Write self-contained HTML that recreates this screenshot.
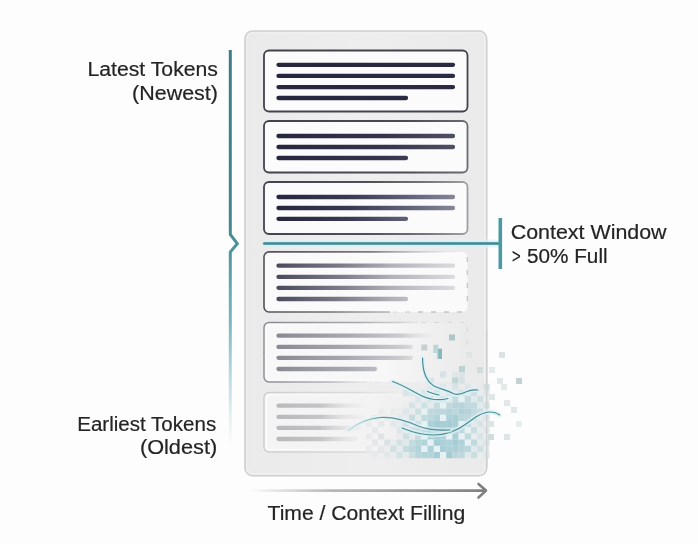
<!DOCTYPE html>
<html><head><meta charset="utf-8">
<style>
html,body{margin:0;padding:0;background:#fdfdfd;}
body{width:698px;height:544px;overflow:hidden;position:relative;font-family:"Liberation Sans",sans-serif;}
svg{position:absolute;left:0;top:0;filter:blur(0.3px);}
.t{font-family:"Liberation Sans",sans-serif;font-size:20px;fill:#242424;stroke:#242424;stroke-width:0.2px;}
</style></head><body>
<svg width="698" height="544" viewBox="0 0 698 544">
<defs>
  <linearGradient id="panelG" x1="0" y1="0" x2="1" y2="0">
    <stop offset="0" stop-color="#eaeaeb"/>
    <stop offset="0.5" stop-color="#eeeeef"/>
    <stop offset="1" stop-color="#eaeaeb"/>
  </linearGradient>
  <linearGradient id="bracketG" gradientUnits="userSpaceOnUse" x1="0" y1="50" x2="0" y2="445">
    <stop offset="0" stop-color="#3d7b85"/>
    <stop offset="0.45" stop-color="#44878f"/>
    <stop offset="0.7" stop-color="#5ba8b2" stop-opacity="0.8"/>
    <stop offset="1" stop-color="#7fc0c8" stop-opacity="0"/>
  </linearGradient>
  <linearGradient id="arrowG" gradientUnits="userSpaceOnUse" x1="248" y1="0" x2="486" y2="0">
    <stop offset="0" stop-color="#9a9a9a" stop-opacity="0"/>
    <stop offset="0.35" stop-color="#9a9a9a" stop-opacity="0.7"/>
    <stop offset="1" stop-color="#7e7e7e"/>
  </linearGradient>
  <linearGradient id="l1" gradientUnits="userSpaceOnUse" x1="278" y1="0" x2="455" y2="0"><stop offset="0" stop-color="#26273e" stop-opacity="1"/><stop offset="1" stop-color="#2a2b43" stop-opacity="1"/></linearGradient><linearGradient id="l2" gradientUnits="userSpaceOnUse" x1="278" y1="0" x2="455" y2="0"><stop offset="0" stop-color="#26273e" stop-opacity="1"/><stop offset="0.6" stop-color="#34354c" stop-opacity="1"/><stop offset="1" stop-color="#4e4f64" stop-opacity="1"/></linearGradient><linearGradient id="l3" gradientUnits="userSpaceOnUse" x1="278" y1="0" x2="455" y2="0"><stop offset="0" stop-color="#26273e" stop-opacity="1"/><stop offset="0.4" stop-color="#383950" stop-opacity="1"/><stop offset="0.75" stop-color="#62637a" stop-opacity="1"/><stop offset="1" stop-color="#858596" stop-opacity="1"/></linearGradient><linearGradient id="l4" gradientUnits="userSpaceOnUse" x1="278" y1="0" x2="455" y2="0"><stop offset="0" stop-color="#4a4b5e" stop-opacity="1"/><stop offset="0.35" stop-color="#7a7a88" stop-opacity="1"/><stop offset="0.65" stop-color="#b2b2ba" stop-opacity="1"/><stop offset="1" stop-color="#dcdce0" stop-opacity="1"/></linearGradient><linearGradient id="l5" gradientUnits="userSpaceOnUse" x1="278" y1="0" x2="432" y2="0"><stop offset="0" stop-color="#8a8a94" stop-opacity="1"/><stop offset="0.45" stop-color="#a8a8b0" stop-opacity="1"/><stop offset="0.8" stop-color="#cbcbd0" stop-opacity="1"/><stop offset="1" stop-color="#e6e6e8" stop-opacity="0.3"/></linearGradient><linearGradient id="l6" gradientUnits="userSpaceOnUse" x1="278" y1="0" x2="372" y2="0"><stop offset="0" stop-color="#b9b9bb" stop-opacity="1"/><stop offset="0.45" stop-color="#c4c4c6" stop-opacity="1"/><stop offset="1" stop-color="#e8e8e8" stop-opacity="0"/></linearGradient><linearGradient id="b2" gradientUnits="userSpaceOnUse" x1="264" y1="0" x2="468" y2="0"><stop offset="0" stop-color="#42434f" stop-opacity="1"/><stop offset="0.7" stop-color="#4a4b56" stop-opacity="1"/><stop offset="1" stop-color="#6c6c74" stop-opacity="1"/></linearGradient><linearGradient id="b3" gradientUnits="userSpaceOnUse" x1="264" y1="0" x2="468" y2="0"><stop offset="0" stop-color="#42434f" stop-opacity="1"/><stop offset="0.5" stop-color="#4e4f5a" stop-opacity="1"/><stop offset="0.8" stop-color="#76767e" stop-opacity="1"/><stop offset="1" stop-color="#a0a0a6" stop-opacity="1"/></linearGradient><linearGradient id="b4t" gradientUnits="userSpaceOnUse" x1="264" y1="0" x2="460" y2="0"><stop offset="0" stop-color="#50515c" stop-opacity="1"/><stop offset="0.55" stop-color="#7c7c86" stop-opacity="1"/><stop offset="0.8" stop-color="#b4b4ba" stop-opacity="0.6"/><stop offset="1" stop-color="#d0d0d4" stop-opacity="0"/></linearGradient><linearGradient id="b4b" gradientUnits="userSpaceOnUse" x1="264" y1="0" x2="395" y2="0"><stop offset="0" stop-color="#50515c" stop-opacity="1"/><stop offset="0.5" stop-color="#6e6e78" stop-opacity="1"/><stop offset="1" stop-color="#a0a0a8" stop-opacity="0.7"/></linearGradient><linearGradient id="b5t" gradientUnits="userSpaceOnUse" x1="264" y1="0" x2="425" y2="0"><stop offset="0" stop-color="#8a8a92" stop-opacity="1"/><stop offset="0.6" stop-color="#a0a0a8" stop-opacity="0.9"/><stop offset="0.85" stop-color="#b8b8bc" stop-opacity="0.6"/><stop offset="1" stop-color="#d0d0d2" stop-opacity="0.1"/></linearGradient><linearGradient id="b5b" gradientUnits="userSpaceOnUse" x1="264" y1="0" x2="375" y2="0"><stop offset="0" stop-color="#8a8a92" stop-opacity="1"/><stop offset="0.6" stop-color="#a8a8ae" stop-opacity="0.8"/><stop offset="1" stop-color="#c8c8cc" stop-opacity="0"/></linearGradient><linearGradient id="b6" gradientUnits="userSpaceOnUse" x1="264" y1="0" x2="420" y2="0"><stop offset="0" stop-color="#cdcdd0" stop-opacity="1"/><stop offset="0.6" stop-color="#d6d6d8" stop-opacity="0.8"/><stop offset="1" stop-color="#e0e0e0" stop-opacity="0"/></linearGradient><linearGradient id="b6i" gradientUnits="userSpaceOnUse" x1="264" y1="0" x2="420" y2="0"><stop offset="0" stop-color="#fcfcfc" stop-opacity="1"/><stop offset="0.6" stop-color="#fafafa" stop-opacity="0.6"/><stop offset="1" stop-color="#fafafa" stop-opacity="0"/></linearGradient><linearGradient id="f5" gradientUnits="userSpaceOnUse" x1="264" y1="0" x2="468" y2="0"><stop offset="0" stop-color="#f8f8f8" stop-opacity="1"/><stop offset="0.6" stop-color="#f7f7f7" stop-opacity="1"/><stop offset="0.85" stop-color="#f2f2f2" stop-opacity="0.5"/><stop offset="1" stop-color="#f0f0f0" stop-opacity="0"/></linearGradient><linearGradient id="f6" gradientUnits="userSpaceOnUse" x1="264" y1="0" x2="468" y2="0"><stop offset="0" stop-color="#f4f4f4" stop-opacity="1"/><stop offset="0.5" stop-color="#f3f3f3" stop-opacity="1"/><stop offset="0.8" stop-color="#f0f0f0" stop-opacity="0.4"/><stop offset="1" stop-color="#efefef" stop-opacity="0"/></linearGradient><linearGradient id="curveD" gradientUnits="userSpaceOnUse" x1="348" y1="0" x2="450" y2="0"><stop offset="0" stop-color="#9cc2c8" stop-opacity="0.5"/><stop offset="0.3" stop-color="#5e99a2" stop-opacity="1"/><stop offset="1" stop-color="#4c8b95" stop-opacity="1"/></linearGradient><linearGradient id="dash4" gradientUnits="userSpaceOnUse" x1="400" y1="0" x2="468" y2="0"><stop offset="0" stop-color="#b8b8bc" stop-opacity="0.3"/><stop offset="0.3" stop-color="#b8b8bc" stop-opacity="0.8"/><stop offset="1" stop-color="#c2c2c6" stop-opacity="0.9"/></linearGradient><linearGradient id="dash5" gradientUnits="userSpaceOnUse" x1="400" y1="0" x2="468" y2="0"><stop offset="0" stop-color="#c8c8cc" stop-opacity="0.3"/><stop offset="0.3" stop-color="#c8c8cc" stop-opacity="0.6"/><stop offset="1" stop-color="#c8c8cc" stop-opacity="0.5"/></linearGradient>
  <g id="curves" fill="none" stroke-linecap="round">
    <path d="M422.6 358 C422.5 372 426 381 434 386 C441 389.5 447 390 452 393 C457 396 462 394 467 391.5 C471 389.5 474 389.5 478 390"/>
    <path d="M392.5 381.5 C403 385 412 391 421 395.5 C428 399 438 401 448 398.5"/>
    <path d="M427.5 391.5 C431 393 435 394.3 439 395"/>
    <path d="M402 428 C412 432 422 435 433 435 C448 435 458 430 466 424 C474 418 482 412 490 412 C494 412 497 413 499.5 415"/>
  </g>
</defs>

<!-- panel -->
<rect x="245" y="31" width="241.7" height="444.7" rx="7.5" fill="url(#panelG)" stroke="#cfcfd1" stroke-width="1.6"/>
<rect x="246.8" y="32.8" width="238.1" height="441.1" rx="6" fill="none" stroke="#f1f1f2" stroke-width="1.2"/>

<!-- card 1 -->
<rect x="264" y="50.5" width="203.5" height="61" rx="5" fill="#fbfbfc" stroke="#42434f" stroke-width="1.8"/>
<g stroke-width="4.3" stroke-linecap="round">
<line x1="278.5" y1="64.8" x2="453" y2="64.8" stroke="url(#l1)"/>
<line x1="278.5" y1="75.9" x2="453" y2="75.9" stroke="url(#l1)"/>
<line x1="278.5" y1="87.1" x2="453" y2="87.1" stroke="url(#l1)"/>
<line x1="278.5" y1="98" x2="406" y2="98" stroke="url(#l1)"/>
</g>

<!-- card 2 -->
<rect x="264" y="121" width="203.5" height="51.5" rx="5" fill="#fbfbfc" stroke="url(#b2)" stroke-width="1.8"/>
<g stroke-width="4.3" stroke-linecap="round">
<line x1="278.5" y1="136" x2="453" y2="136" stroke="url(#l2)"/>
<line x1="278.5" y1="147" x2="453" y2="147" stroke="url(#l2)"/>
<line x1="278.5" y1="158" x2="406" y2="158" stroke="url(#l2)"/>
</g>

<!-- card 3 -->
<rect x="264" y="182" width="203.5" height="52" rx="5" fill="#fbfbfc" stroke="url(#b3)" stroke-width="1.8"/>
<g stroke-width="4.3" stroke-linecap="round">
<line x1="278.5" y1="197" x2="453" y2="197" stroke="url(#l3)"/>
<line x1="278.5" y1="208" x2="453" y2="208" stroke="url(#l3)"/>
<line x1="278.5" y1="218.8" x2="406" y2="218.8" stroke="url(#l3)"/>
</g>

<!-- card 4 -->
<rect x="264" y="251.9" width="203.5" height="60.1" rx="5" fill="#fafafa"/>
<path d="M264 281.9 V256.9 A5 5 0 0 1 269 251.9 H468" fill="none" stroke="url(#b4t)" stroke-width="1.6"/>
<path d="M264 282 V307 A5 5 0 0 0 269 312 H390" fill="none" stroke="url(#b4b)" stroke-width="1.6"/>
<path d="M467.3 257 V309 M462 312 H393" fill="none" stroke="url(#dash4)" stroke-width="1.3" stroke-dasharray="5 8"/>
<g stroke-width="4.3" stroke-linecap="round">
<line x1="278.5" y1="265.7" x2="453" y2="265.7" stroke="url(#l4)"/>
<line x1="278.5" y1="276.9" x2="453" y2="276.9" stroke="url(#l4)"/>
<line x1="278.5" y1="287.8" x2="453" y2="287.8" stroke="url(#l4)"/>
<line x1="278.5" y1="299" x2="406" y2="299" stroke="url(#l4)"/>
</g>

<!-- card 5 -->
<rect x="264" y="322.5" width="203.5" height="59.5" rx="5" fill="url(#f5)"/>
<path d="M264 352.5 V327.5 A5 5 0 0 1 269 322.5 H418" fill="none" stroke="url(#b5t)" stroke-width="1.4"/>
<path d="M264 352 V377 A5 5 0 0 0 269 382 H372" fill="none" stroke="url(#b5b)" stroke-width="1.4"/>
<path d="M467.3 327 V350 M421 322.5 H464 M362 382 H392" fill="none" stroke="url(#dash5)" stroke-width="1.2" stroke-dasharray="5 8"/>
<rect x="266.3" y="324.8" width="199" height="55" rx="3.5" fill="none" stroke="url(#b6i)" stroke-width="1.1"/>
<g stroke-width="4.3" stroke-linecap="round">
<line x1="278.5" y1="335.7" x2="430" y2="335.7" stroke="url(#l5)"/>
<line x1="278.5" y1="346.9" x2="411" y2="346.9" stroke="url(#l5)"/>
<line x1="278.5" y1="357.8" x2="411" y2="357.8" stroke="url(#l5)"/>
<line x1="278.5" y1="369" x2="375" y2="369" stroke="url(#l5)"/>
</g>

<!-- card 6 -->
<rect x="264" y="392.5" width="203.5" height="59.5" rx="5" fill="url(#f6)" stroke="url(#b6)" stroke-width="1.4"/>
<rect x="266.5" y="395" width="198.5" height="54.5" rx="3.5" fill="none" stroke="url(#b6i)" stroke-width="1.2"/>
<g stroke-width="4.3" stroke-linecap="round">
<line x1="278.5" y1="405.7" x2="370" y2="405.7" stroke="url(#l6)"/>
<line x1="278.5" y1="416.9" x2="364" y2="416.9" stroke="url(#l6)"/>
<line x1="278.5" y1="427.8" x2="360" y2="427.8" stroke="url(#l6)"/>
<line x1="278.5" y1="439" x2="356" y2="439" stroke="url(#l6)"/>
</g>

<!-- pixel cloud -->
<g>
<rect x="440.0" y="371.4" width="6.2" height="6.2" fill="#d7e3e6"/>
<rect x="452.4" y="371.4" width="6.2" height="6.2" fill="#dee6e9"/>
<rect x="458.6" y="371.4" width="6.2" height="6.2" fill="#dbe5e8"/>
<rect x="427.6" y="377.6" width="6.2" height="6.2" fill="#d5e2e6"/>
<rect x="458.6" y="377.6" width="6.2" height="6.2" fill="#d3e2e5"/>
<rect x="427.6" y="383.8" width="6.2" height="6.2" fill="#e2e8ea"/>
<rect x="433.8" y="383.8" width="6.2" height="6.2" fill="#e8eced"/>
<rect x="440.0" y="383.8" width="6.2" height="6.2" fill="#dde6e9"/>
<rect x="446.2" y="383.8" width="6.2" height="6.2" fill="#e9eced"/>
<rect x="452.4" y="383.8" width="6.2" height="6.2" fill="#dae4e7"/>
<rect x="458.6" y="383.8" width="6.2" height="6.2" fill="#e9eced"/>
<rect x="464.8" y="383.8" width="6.2" height="6.2" fill="#dee6e9"/>
<rect x="471.0" y="383.8" width="6.2" height="6.2" fill="#eaecee"/>
<rect x="483.4" y="383.8" width="6.2" height="6.2" fill="#d1e1e4"/>
<rect x="402.8" y="390.0" width="6.2" height="6.2" fill="#d8e4e7"/>
<rect x="409.0" y="390.0" width="6.2" height="6.2" fill="#dee7e9"/>
<rect x="415.2" y="390.0" width="6.2" height="6.2" fill="#eaecee"/>
<rect x="421.4" y="390.0" width="6.2" height="6.2" fill="#d9e4e7"/>
<rect x="427.6" y="390.0" width="6.2" height="6.2" fill="#e8eced"/>
<rect x="433.8" y="390.0" width="6.2" height="6.2" fill="#d5e2e6"/>
<rect x="440.0" y="390.0" width="6.2" height="6.2" fill="#e8eced"/>
<rect x="446.2" y="390.0" width="6.2" height="6.2" fill="#d5e2e6"/>
<rect x="452.4" y="390.0" width="6.2" height="6.2" fill="#e4ebed"/>
<rect x="458.6" y="390.0" width="6.2" height="6.2" fill="#cbdee2"/>
<rect x="464.8" y="390.0" width="6.2" height="6.2" fill="#e2eaec"/>
<rect x="471.0" y="390.0" width="6.2" height="6.2" fill="#cfe0e4"/>
<rect x="477.2" y="390.0" width="6.2" height="6.2" fill="#e8eced"/>
<rect x="483.4" y="390.0" width="6.2" height="6.2" fill="#e1e8ea"/>
<rect x="409.0" y="396.2" width="6.2" height="6.2" fill="#eaecee"/>
<rect x="415.2" y="396.2" width="6.2" height="6.2" fill="#dce5e8"/>
<rect x="421.4" y="396.2" width="6.2" height="6.2" fill="#e8eced"/>
<rect x="427.6" y="396.2" width="6.2" height="6.2" fill="#c9dde2"/>
<rect x="433.8" y="396.2" width="6.2" height="6.2" fill="#e6ebed"/>
<rect x="440.0" y="396.2" width="6.2" height="6.2" fill="#c4dbe0"/>
<rect x="446.2" y="396.2" width="6.2" height="6.2" fill="#e0eaec"/>
<rect x="452.4" y="396.2" width="6.2" height="6.2" fill="#c5dbe0"/>
<rect x="458.6" y="396.2" width="6.2" height="6.2" fill="#e5f1f2"/>
<rect x="464.8" y="396.2" width="6.2" height="6.2" fill="#c3dadf"/>
<rect x="471.0" y="396.2" width="6.2" height="6.2" fill="#dfeaec"/>
<rect x="477.2" y="396.2" width="6.2" height="6.2" fill="#cedfe3"/>
<rect x="483.4" y="396.2" width="6.2" height="6.2" fill="#e9eced"/>
<rect x="402.8" y="402.4" width="6.2" height="6.2" fill="#eaecee"/>
<rect x="409.0" y="402.4" width="6.2" height="6.2" fill="#d5e2e6"/>
<rect x="415.2" y="402.4" width="6.2" height="6.2" fill="#e8eced"/>
<rect x="421.4" y="402.4" width="6.2" height="6.2" fill="#cfe0e4"/>
<rect x="427.6" y="402.4" width="6.2" height="6.2" fill="#e4ebed"/>
<rect x="433.8" y="402.4" width="6.2" height="6.2" fill="#c5dce0"/>
<rect x="440.0" y="402.4" width="6.2" height="6.2" fill="#e5f1f2"/>
<rect x="446.2" y="402.4" width="6.2" height="6.2" fill="#c2dadf"/>
<rect x="452.4" y="402.4" width="6.2" height="6.2" fill="#b5d4db"/>
<rect x="458.6" y="402.4" width="6.2" height="6.2" fill="#b5d4db"/>
<rect x="464.8" y="402.4" width="6.2" height="6.2" fill="#c0d9df"/>
<rect x="471.0" y="402.4" width="6.2" height="6.2" fill="#c1dadf"/>
<rect x="477.2" y="402.4" width="6.2" height="6.2" fill="#e1eaec"/>
<rect x="483.4" y="402.4" width="6.2" height="6.2" fill="#d4e2e5"/>
<rect x="378.0" y="408.6" width="6.2" height="6.2" fill="#eaebec"/>
<rect x="390.4" y="408.6" width="6.2" height="6.2" fill="#eaebec"/>
<rect x="396.6" y="408.6" width="6.2" height="6.2" fill="#ebecee"/>
<rect x="402.8" y="408.6" width="6.2" height="6.2" fill="#dde6e9"/>
<rect x="409.0" y="408.6" width="6.2" height="6.2" fill="#e8eced"/>
<rect x="415.2" y="408.6" width="6.2" height="6.2" fill="#cbdee2"/>
<rect x="421.4" y="408.6" width="6.2" height="6.2" fill="#e5f1f2"/>
<rect x="427.6" y="408.6" width="6.2" height="6.2" fill="#bed8de"/>
<rect x="433.8" y="408.6" width="6.2" height="6.2" fill="#bcd7dd"/>
<rect x="440.0" y="408.6" width="6.2" height="6.2" fill="#bbd7dd"/>
<rect x="446.2" y="408.6" width="6.2" height="6.2" fill="#b1d3d9"/>
<rect x="452.4" y="408.6" width="6.2" height="6.2" fill="#bad7dc"/>
<rect x="458.6" y="408.6" width="6.2" height="6.2" fill="#acd1d8"/>
<rect x="464.8" y="408.6" width="6.2" height="6.2" fill="#b2d3da"/>
<rect x="471.0" y="408.6" width="6.2" height="6.2" fill="#c1dadf"/>
<rect x="477.2" y="408.6" width="6.2" height="6.2" fill="#c9dde2"/>
<rect x="483.4" y="408.6" width="6.2" height="6.2" fill="#e7ebed"/>
<rect x="371.8" y="414.8" width="6.2" height="6.2" fill="#eaebec"/>
<rect x="384.2" y="414.8" width="6.2" height="6.2" fill="#e9eaec"/>
<rect x="396.6" y="414.8" width="6.2" height="6.2" fill="#e1e8ea"/>
<rect x="402.8" y="414.8" width="6.2" height="6.2" fill="#e9eced"/>
<rect x="409.0" y="414.8" width="6.2" height="6.2" fill="#c7dce1"/>
<rect x="415.2" y="414.8" width="6.2" height="6.2" fill="#e4ebed"/>
<rect x="421.4" y="414.8" width="6.2" height="6.2" fill="#c1dadf"/>
<rect x="427.6" y="414.8" width="6.2" height="6.2" fill="#bcd7dd"/>
<rect x="433.8" y="414.8" width="6.2" height="6.2" fill="#b4d4db"/>
<rect x="440.0" y="414.8" width="6.2" height="6.2" fill="#e5f1f2"/>
<rect x="446.2" y="414.8" width="6.2" height="6.2" fill="#add1d8"/>
<rect x="452.4" y="414.8" width="6.2" height="6.2" fill="#a8cfd6"/>
<rect x="458.6" y="414.8" width="6.2" height="6.2" fill="#b8d6dc"/>
<rect x="464.8" y="414.8" width="6.2" height="6.2" fill="#bed9de"/>
<rect x="471.0" y="414.8" width="6.2" height="6.2" fill="#c7dce1"/>
<rect x="477.2" y="414.8" width="6.2" height="6.2" fill="#e5ebed"/>
<rect x="483.4" y="414.8" width="6.2" height="6.2" fill="#dce6e8"/>
<rect x="365.6" y="421.0" width="6.2" height="6.2" fill="#eaebec"/>
<rect x="378.0" y="421.0" width="6.2" height="6.2" fill="#e6e9ea"/>
<rect x="390.4" y="421.0" width="6.2" height="6.2" fill="#e2e7e8"/>
<rect x="396.6" y="421.0" width="6.2" height="6.2" fill="#e9eced"/>
<rect x="402.8" y="421.0" width="6.2" height="6.2" fill="#d0e0e4"/>
<rect x="409.0" y="421.0" width="6.2" height="6.2" fill="#e3eaed"/>
<rect x="415.2" y="421.0" width="6.2" height="6.2" fill="#cbdee2"/>
<rect x="421.4" y="421.0" width="6.2" height="6.2" fill="#e5f1f2"/>
<rect x="427.6" y="421.0" width="6.2" height="6.2" fill="#aed1d8"/>
<rect x="433.8" y="421.0" width="6.2" height="6.2" fill="#a4cdd5"/>
<rect x="440.0" y="421.0" width="6.2" height="6.2" fill="#a8cfd6"/>
<rect x="446.2" y="421.0" width="6.2" height="6.2" fill="#a4cdd5"/>
<rect x="452.4" y="421.0" width="6.2" height="6.2" fill="#aad0d7"/>
<rect x="458.6" y="421.0" width="6.2" height="6.2" fill="#e5f1f2"/>
<rect x="464.8" y="421.0" width="6.2" height="6.2" fill="#bfd9de"/>
<rect x="471.0" y="421.0" width="6.2" height="6.2" fill="#e5ebed"/>
<rect x="477.2" y="421.0" width="6.2" height="6.2" fill="#d7e3e6"/>
<rect x="483.4" y="421.0" width="6.2" height="6.2" fill="#eaecee"/>
<rect x="371.8" y="427.2" width="6.2" height="6.2" fill="#e6e9eb"/>
<rect x="396.6" y="427.2" width="6.2" height="6.2" fill="#dde6e8"/>
<rect x="402.8" y="427.2" width="6.2" height="6.2" fill="#e9eced"/>
<rect x="409.0" y="427.2" width="6.2" height="6.2" fill="#ccdfe3"/>
<rect x="415.2" y="427.2" width="6.2" height="6.2" fill="#c7dce1"/>
<rect x="421.4" y="427.2" width="6.2" height="6.2" fill="#bdd8de"/>
<rect x="427.6" y="427.2" width="6.2" height="6.2" fill="#a6ced6"/>
<rect x="433.8" y="427.2" width="6.2" height="6.2" fill="#abd0d7"/>
<rect x="440.0" y="427.2" width="6.2" height="6.2" fill="#a4cdd5"/>
<rect x="446.2" y="427.2" width="6.2" height="6.2" fill="#a8cfd6"/>
<rect x="452.4" y="427.2" width="6.2" height="6.2" fill="#b9d6dc"/>
<rect x="458.6" y="427.2" width="6.2" height="6.2" fill="#bfd9de"/>
<rect x="464.8" y="427.2" width="6.2" height="6.2" fill="#e5f1f2"/>
<rect x="471.0" y="427.2" width="6.2" height="6.2" fill="#c9dde2"/>
<rect x="477.2" y="427.2" width="6.2" height="6.2" fill="#e9eced"/>
<rect x="483.4" y="427.2" width="6.2" height="6.2" fill="#dee6e9"/>
<rect x="365.6" y="433.4" width="6.2" height="6.2" fill="#e8eaeb"/>
<rect x="378.0" y="433.4" width="6.2" height="6.2" fill="#dfe5e7"/>
<rect x="396.6" y="433.4" width="6.2" height="6.2" fill="#eaecee"/>
<rect x="402.8" y="433.4" width="6.2" height="6.2" fill="#cddfe3"/>
<rect x="409.0" y="433.4" width="6.2" height="6.2" fill="#e3ebed"/>
<rect x="415.2" y="433.4" width="6.2" height="6.2" fill="#c5dbe0"/>
<rect x="421.4" y="433.4" width="6.2" height="6.2" fill="#e5f1f2"/>
<rect x="427.6" y="433.4" width="6.2" height="6.2" fill="#abd0d7"/>
<rect x="433.8" y="433.4" width="6.2" height="6.2" fill="#a7ced6"/>
<rect x="440.0" y="433.4" width="6.2" height="6.2" fill="#b0d2d9"/>
<rect x="446.2" y="433.4" width="6.2" height="6.2" fill="#e5f1f2"/>
<rect x="452.4" y="433.4" width="6.2" height="6.2" fill="#a9cfd7"/>
<rect x="458.6" y="433.4" width="6.2" height="6.2" fill="#e5f1f2"/>
<rect x="464.8" y="433.4" width="6.2" height="6.2" fill="#c2dadf"/>
<rect x="471.0" y="433.4" width="6.2" height="6.2" fill="#e7eced"/>
<rect x="477.2" y="433.4" width="6.2" height="6.2" fill="#d7e3e6"/>
<rect x="483.4" y="433.4" width="6.2" height="6.2" fill="#eaecee"/>
<rect x="371.8" y="439.6" width="6.2" height="6.2" fill="#e4e8e9"/>
<rect x="384.2" y="439.6" width="6.2" height="6.2" fill="#dce3e5"/>
<rect x="390.4" y="439.6" width="6.2" height="6.2" fill="#e7eced"/>
<rect x="396.6" y="439.6" width="6.2" height="6.2" fill="#d3e2e5"/>
<rect x="402.8" y="439.6" width="6.2" height="6.2" fill="#e0eaec"/>
<rect x="409.0" y="439.6" width="6.2" height="6.2" fill="#c4dbe0"/>
<rect x="415.2" y="439.6" width="6.2" height="6.2" fill="#b9d6dc"/>
<rect x="421.4" y="439.6" width="6.2" height="6.2" fill="#b2d3da"/>
<rect x="427.6" y="439.6" width="6.2" height="6.2" fill="#e5f1f2"/>
<rect x="433.8" y="439.6" width="6.2" height="6.2" fill="#a4cdd5"/>
<rect x="440.0" y="439.6" width="6.2" height="6.2" fill="#add1d8"/>
<rect x="446.2" y="439.6" width="6.2" height="6.2" fill="#aed2d9"/>
<rect x="452.4" y="439.6" width="6.2" height="6.2" fill="#a4cdd5"/>
<rect x="458.6" y="439.6" width="6.2" height="6.2" fill="#aed2d9"/>
<rect x="464.8" y="439.6" width="6.2" height="6.2" fill="#e5f1f2"/>
<rect x="471.0" y="439.6" width="6.2" height="6.2" fill="#bfd9de"/>
<rect x="477.2" y="439.6" width="6.2" height="6.2" fill="#e5ebed"/>
<rect x="483.4" y="439.6" width="6.2" height="6.2" fill="#dae5e8"/>
<rect x="365.6" y="445.8" width="6.2" height="6.2" fill="#eaebec"/>
<rect x="378.0" y="445.8" width="6.2" height="6.2" fill="#e4e8e9"/>
<rect x="384.2" y="445.8" width="6.2" height="6.2" fill="#eaecee"/>
<rect x="390.4" y="445.8" width="6.2" height="6.2" fill="#d0e0e4"/>
<rect x="396.6" y="445.8" width="6.2" height="6.2" fill="#e3ebed"/>
<rect x="402.8" y="445.8" width="6.2" height="6.2" fill="#c4dbe0"/>
<rect x="409.0" y="445.8" width="6.2" height="6.2" fill="#bed8de"/>
<rect x="415.2" y="445.8" width="6.2" height="6.2" fill="#b2d3da"/>
<rect x="421.4" y="445.8" width="6.2" height="6.2" fill="#e5f1f2"/>
<rect x="427.6" y="445.8" width="6.2" height="6.2" fill="#aed1d8"/>
<rect x="433.8" y="445.8" width="6.2" height="6.2" fill="#e5f1f2"/>
<rect x="440.0" y="445.8" width="6.2" height="6.2" fill="#a9cfd7"/>
<rect x="446.2" y="445.8" width="6.2" height="6.2" fill="#aed2d9"/>
<rect x="452.4" y="445.8" width="6.2" height="6.2" fill="#abd0d7"/>
<rect x="458.6" y="445.8" width="6.2" height="6.2" fill="#b4d4da"/>
<rect x="464.8" y="445.8" width="6.2" height="6.2" fill="#bbd7dd"/>
<rect x="471.0" y="445.8" width="6.2" height="6.2" fill="#e0eaec"/>
<rect x="477.2" y="445.8" width="6.2" height="6.2" fill="#d0e0e4"/>
<rect x="483.4" y="445.8" width="6.2" height="6.2" fill="#e8eced"/>
<rect x="371.8" y="452.0" width="6.2" height="6.2" fill="#e7eaeb"/>
<rect x="384.2" y="452.0" width="6.2" height="6.2" fill="#e2e8ea"/>
<rect x="390.4" y="452.0" width="6.2" height="6.2" fill="#e9eced"/>
<rect x="396.6" y="452.0" width="6.2" height="6.2" fill="#d3e2e5"/>
<rect x="402.8" y="452.0" width="6.2" height="6.2" fill="#e2eaec"/>
<rect x="409.0" y="452.0" width="6.2" height="6.2" fill="#cbdee2"/>
<rect x="415.2" y="452.0" width="6.2" height="6.2" fill="#b8d6dc"/>
<rect x="421.4" y="452.0" width="6.2" height="6.2" fill="#b3d4da"/>
<rect x="427.6" y="452.0" width="6.2" height="6.2" fill="#b6d5db"/>
<rect x="433.8" y="452.0" width="6.2" height="6.2" fill="#a4cdd5"/>
<rect x="440.0" y="452.0" width="6.2" height="6.2" fill="#e5f1f2"/>
<rect x="446.2" y="452.0" width="6.2" height="6.2" fill="#a4cdd5"/>
<rect x="452.4" y="452.0" width="6.2" height="6.2" fill="#bbd7dd"/>
<rect x="458.6" y="452.0" width="6.2" height="6.2" fill="#bed8de"/>
<rect x="464.8" y="452.0" width="6.2" height="6.2" fill="#dfe9ec"/>
<rect x="471.0" y="452.0" width="6.2" height="6.2" fill="#cadee2"/>
<rect x="477.2" y="452.0" width="6.2" height="6.2" fill="#e7eced"/>
<rect x="483.4" y="452.0" width="6.2" height="6.2" fill="#e1e8ea"/>
<rect x="499" y="352" width="6" height="6" fill="#dde3e4"/>
<rect x="516" y="378" width="6" height="6" fill="#c2d2d3"/>
<rect x="497" y="378" width="6" height="6" fill="#e2e8e9"/>
<rect x="501" y="384" width="6" height="6" fill="#e4eaea"/>
<rect x="489" y="367" width="6" height="6" fill="#e6eaeb"/>
<rect x="489" y="394" width="6" height="6" fill="#dfe6e7"/>
<rect x="504" y="400" width="6" height="6" fill="#e2e8e9"/>
<rect x="511" y="407" width="6" height="6" fill="#e2e8e9"/>
<rect x="516" y="421" width="6" height="6" fill="#e8eded"/>
<rect x="488" y="421" width="6" height="6" fill="#dce5e6"/>
<rect x="488" y="434" width="6" height="6" fill="#d0dcdd"/>
<rect x="504" y="434" width="6" height="6" fill="#dce5e6"/>
<rect x="449" y="334.5" width="6" height="6" fill="#adc6c7"/>
<rect x="421.3" y="344.5" width="6" height="6" fill="#c9cfd0"/>
<rect x="459" y="366" width="6" height="6" fill="#bcd1d2"/>
<rect x="477" y="367" width="6" height="6" fill="#cedcdc"/>
<rect x="452" y="377.5" width="6" height="6" fill="#c0d5d6"/>
<rect x="466" y="352" width="6" height="6" fill="#dfe5e5"/>
<path d="M433.3 344.8 h5 v4 h3.6 v10.2 h-5 v-6 h-3.6z" fill="#b9d6da"/><rect x="438.3" y="348.8" width="3.6" height="10" fill="#86b5bb"/>
</g>
<line x1="486.7" y1="330" x2="486.7" y2="468" stroke="#cfcfd1" stroke-width="1.6" opacity="0.85"/>

<use href="#curves" stroke="#dcf2f5" stroke-width="5" opacity="0.75"/>
<use href="#curves" stroke="#4c8b95" stroke-width="1.2"/>
<path d="M348.5 430.5 C356 424 366 419 380 417.5 C393 416.5 405 420 418 426 C428 430 440 430.5 450 430" fill="none" stroke="#e2f3f5" stroke-width="5" opacity="0.6" stroke-linecap="round"/>
<path d="M348.5 430.5 C356 424 366 419 380 417.5 C393 416.5 405 420 418 426 C428 430 440 430.5 450 430" fill="none" stroke="url(#curveD)" stroke-width="1.2" stroke-linecap="round"/>

<!-- teal divider -->
<line x1="263" y1="243.5" x2="499" y2="243.5" stroke="#dcf4f7" stroke-width="8" opacity="0.6"/>
<line x1="263" y1="243.5" x2="499" y2="243.5" stroke="#c8eef3" stroke-width="4.6" opacity="0.8"/>
<line x1="264.3" y1="243.5" x2="500" y2="243.5" stroke="#3d8791" stroke-width="2.6" stroke-linecap="round"/>
<line x1="500.3" y1="218" x2="500.3" y2="269" stroke="#4a98a2" stroke-width="3.6"/>

<!-- left bracket -->
<path d="M230.3 50 V234.5 L237.3 243.6 L230.3 252 V445" fill="none" stroke="url(#bracketG)" stroke-width="3" stroke-linejoin="miter"/>

<!-- bottom arrow -->
<line x1="250" y1="490.6" x2="485" y2="490.6" stroke="url(#arrowG)" stroke-width="2.6"/>
<path d="M478.5 484 L486 490.6 L478.5 497.5" fill="none" stroke="#7e7e7e" stroke-width="2.6" stroke-linecap="round" stroke-linejoin="round"/>

<!-- text -->
<text class="t" x="87.5" y="76.2" textLength="130.4" lengthAdjust="spacingAndGlyphs">Latest Tokens</text>
<text class="t" x="132.1" y="99.8" textLength="85.8" lengthAdjust="spacingAndGlyphs">(Newest)</text>
<text class="t" x="77.2" y="431" textLength="139" lengthAdjust="spacingAndGlyphs">Earliest Tokens</text>
<text class="t" x="139.9" y="453.8" textLength="77.3" lengthAdjust="spacingAndGlyphs">(Oldest)</text>
<text class="t" x="510.7" y="239" textLength="155.9" lengthAdjust="spacingAndGlyphs">Context Window</text>
<text class="t" x="512.1" y="262.8" textLength="8.7" lengthAdjust="spacingAndGlyphs">&gt;</text>
<text class="t" x="527" y="263" textLength="80.6" lengthAdjust="spacingAndGlyphs">50% Full</text>
<text class="t" x="267.5" y="519.8" textLength="197.7" lengthAdjust="spacingAndGlyphs">Time / Context Filling</text>
</svg>
</body></html>
